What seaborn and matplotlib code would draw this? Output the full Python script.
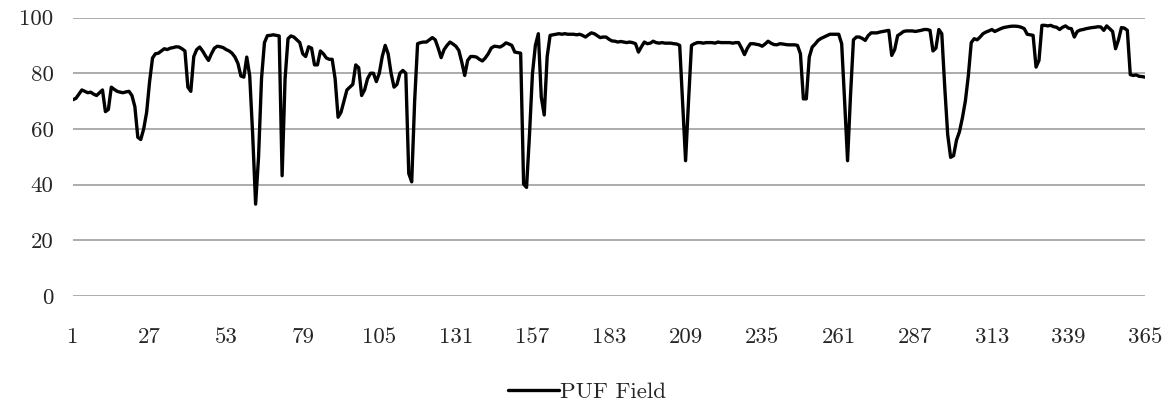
import matplotlib
matplotlib.use("Agg")
import matplotlib.pyplot as plt
import seaborn as sns
import pandas as pd

days = list(range(1, 366))

puf_field = [
    70.5, 71.0, 72.5, 74.0, 73.5, 73.0, 73.2, 72.5, 72.0, 73.0,
    74.0, 66.2, 67.0, 75.0, 74.2, 73.5, 73.2, 73.0, 73.3, 73.5,
    72.0, 68.0, 57.0, 56.2, 60.0, 66.0, 77.0, 85.5, 87.0, 87.2,
    88.0, 88.8, 88.5, 89.0, 89.2, 89.5, 89.4, 88.8, 88.0, 75.0,
    73.5, 86.0, 88.5, 89.4, 88.0, 86.2, 84.6, 87.0, 89.0, 89.7,
    89.5, 89.2, 88.5, 88.0, 87.2, 85.8, 83.5, 79.0, 78.6, 85.8,
    79.0, 58.0, 33.0, 50.0, 78.0, 91.0, 93.5, 93.6, 93.8, 93.6,
    93.4, 43.2, 78.0, 92.4, 93.4, 93.0, 92.0, 91.0, 87.0, 86.0,
    89.5, 89.0, 83.0, 83.0, 88.0, 87.0, 85.5, 85.0, 85.0, 78.0,
    64.2, 66.0, 70.0, 74.0, 75.0, 76.0, 83.0, 82.0, 72.0, 74.0,
    78.0, 80.0, 80.0, 77.0, 80.0, 86.0, 90.0, 87.0, 80.0, 75.0,
    76.0, 80.0, 81.0, 80.0, 44.0, 41.0, 70.0, 90.6, 91.0, 91.2,
    91.2, 92.0, 92.8, 92.0, 89.0, 85.6, 88.5, 90.0, 91.2, 90.5,
    89.7, 88.2, 84.0, 79.2, 84.6, 86.0, 86.0, 85.8, 85.0, 84.4,
    85.5, 87.0, 89.0, 89.7, 89.6, 89.4, 90.0, 90.9, 90.5, 90.0,
    87.6, 87.4, 87.2, 40.2, 39.0, 58.0, 79.8, 90.0, 94.2, 71.4,
    65.0, 86.0, 93.6, 93.8, 94.0, 94.2, 94.0, 94.2, 94.0, 94.0,
    94.0, 93.8, 94.0, 93.6, 93.0, 93.8, 94.5, 94.2, 93.5, 92.8,
    93.0, 93.0, 92.2, 91.6, 91.5, 91.2, 91.4, 91.2, 91.0, 91.2,
    91.0, 90.6, 87.6, 89.5, 91.2, 90.6, 90.8, 91.5, 91.0, 90.8,
    91.0, 90.8, 90.8, 90.8, 90.6, 90.5, 90.0, 69.0, 48.6, 70.0,
    90.0, 90.6, 91.0, 91.0, 90.8, 91.0, 91.0, 91.0, 90.8, 91.2,
    91.0, 91.0, 91.0, 91.0, 90.8, 91.0, 91.0, 89.0, 86.7, 89.0,
    90.6, 90.6, 90.4, 90.2, 89.7, 90.5, 91.5, 90.8, 90.3, 90.2,
    90.6, 90.5, 90.3, 90.2, 90.2, 90.2, 90.0, 87.0, 70.8, 70.8,
    85.8, 89.4, 90.5, 91.8, 92.5, 93.0, 93.5, 94.0, 94.0, 94.0,
    94.0, 90.6, 70.0, 48.6, 72.0, 92.0, 93.0, 93.0, 92.5, 91.8,
    93.5, 94.5, 94.5, 94.5, 94.8, 95.0, 95.2, 95.4, 86.4, 88.5,
    93.5, 94.2, 95.0, 95.2, 95.2, 95.2, 95.0, 95.2, 95.4, 95.7,
    95.7, 95.4, 88.0, 89.0, 95.7, 94.2, 75.0, 58.0, 49.8, 50.4,
    56.0, 59.0, 64.0, 70.0, 79.0, 91.0, 92.4, 92.0, 93.0, 94.2,
    94.8, 95.2, 95.7, 95.0, 95.5, 96.0, 96.4, 96.6, 96.8, 96.9,
    96.9, 96.8, 96.5, 96.0, 94.0, 93.8, 93.6, 82.2, 84.6, 97.2,
    97.2, 97.0, 97.2, 96.7, 96.5, 95.7, 96.5, 97.0, 96.2, 96.0,
    93.0, 95.0, 95.5, 95.7, 96.0, 96.2, 96.4, 96.5, 96.7, 96.6,
    95.4, 97.0, 96.0, 95.0, 88.8, 92.0, 96.4, 96.2, 95.4, 79.5,
    79.2, 79.4, 78.9, 78.8, 78.6,
]

x_ticks = [1, 27, 53, 79, 105, 131, 157, 183, 209, 235, 261, 287, 313, 339, 365]
y_ticks = [0, 20, 40, 60, 80, 100]
series_name = "PUF Field"

sns.set_style("white")
plt.rcParams["font.family"] = ["cmr10", "DejaVu Serif"]
plt.rcParams["axes.formatter.use_mathtext"] = True

df = pd.DataFrame({"day": days, "value": puf_field})

fig = plt.figure(figsize=(11.74, 4.08), dpi=100)
ax = fig.add_axes([0.0622, 0.2745, 0.9131, 0.6825])

sns.lineplot(data=df, x="day", y="value", ax=ax, color="black",
             linewidth=2.4, label=series_name, legend=False)

ax.set_xlim(1, 365)
ax.set_ylim(0, 100)
ax.set_xticks(x_ticks)
ax.set_xticklabels([str(t) for t in x_ticks])
ax.set_yticks(y_ticks)
ax.set_yticklabels([str(t) for t in y_ticks])
ax.yaxis.grid(True, color="#A6A6A6", linewidth=1.3)
ax.xaxis.grid(False)
ax.set_axisbelow(True)
for s in ax.spines.values():
    s.set_visible(False)
ax.tick_params(axis="both", length=0, labelsize=16.5)
ax.tick_params(axis="y", pad=14)
ax.tick_params(axis="x", pad=23)
ax.set_xlabel("")
ax.set_ylabel("")

handles, labels = ax.get_legend_handles_labels()
fig.legend(handles, labels, loc="lower center", bbox_to_anchor=(0.5, -0.035),
           frameon=False, fontsize=16.5, handlelength=2.2, handletextpad=0.05)

fig.savefig("out.png", dpi=100)
